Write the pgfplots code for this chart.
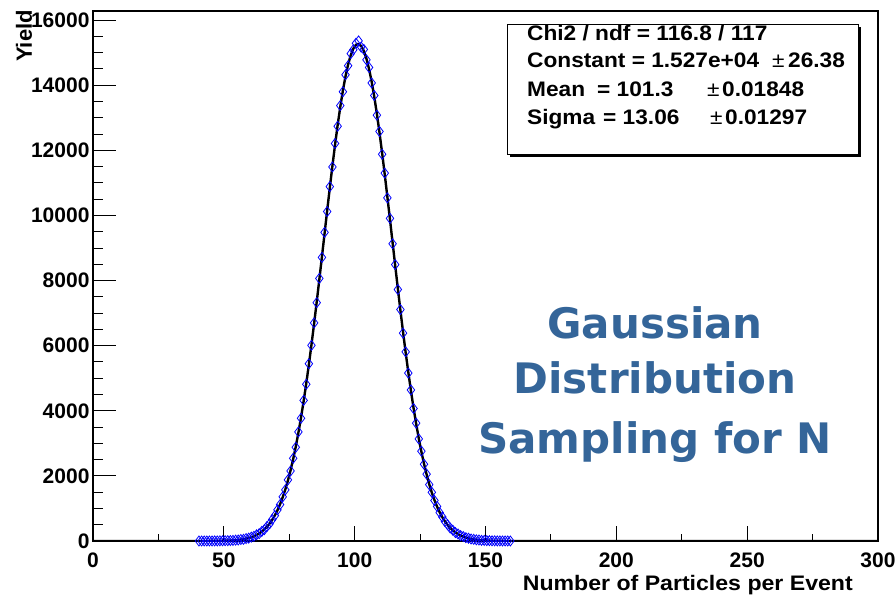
\documentclass[border=0pt]{standalone}
\usepackage{pgfplots}
\pgfplotsset{compat=1.18}
\usepackage{fontspec}
\setmainfont{Liberation Sans}
\newfontfamily\dejavu{DejaVu Sans}
\usepackage{graphicx}
\definecolor{titleblue}{RGB}{52,101,153}
\newcommand{\sx}[1]{\scalebox{1.08}[1]{#1}}
\newcommand{\statf}{\fontsize{21}{21}\selectfont\bfseries}

\pgfplotstableread{
x y
40.5 0
41.5 0
42.5 1
43.5 0
44.5 2
45.5 1
46.5 3
47.5 2
48.5 5
49.5 6
50.5 9
51.5 10
52.5 15
53.5 18
54.5 27
55.5 31
56.5 45
57.5 52
58.5 74
59.5 88
60.5 120
61.5 143
62.5 190
63.5 226
64.5 295
65.5 350
66.5 446
67.5 528
68.5 660
69.5 779
70.5 958
71.5 1118
72.5 1356
73.5 1570
74.5 1878
75.5 2152
76.5 2540
77.5 2880
78.5 3350
79.5 3770
80.5 4320
81.5 4815
82.5 5445
83.5 6010
84.5 6700
85.5 7320
86.5 8065
87.5 8710
88.5 9480
89.5 10120
90.5 10885
91.5 11490
92.5 12210
93.5 12740
94.5 13375
95.5 13800
96.5 14320
97.5 14600
98.5 14970
99.5 15090
100.5 15290
101.5 15360
102.5 15170
103.5 15100
104.5 14780
105.5 14545
106.5 14070
107.5 13685
108.5 13080
109.5 12580
110.5 11880
111.5 11300
112.5 10540
113.5 9910
114.5 9130
115.5 8490
116.5 7725
117.5 7110
118.5 6385
119.5 5810
120.5 5160
121.5 4640
122.5 4070
123.5 3620
124.5 3135
125.5 2760
126.5 2358
127.5 2055
128.5 1732
129.5 1495
130.5 1244
131.5 1062
132.5 872
133.5 738
134.5 597
135.5 500
136.5 398
137.5 333
138.5 259
139.5 216
140.5 165
141.5 137
142.5 102
143.5 85
144.5 62
145.5 52
146.5 36
147.5 30
148.5 20
149.5 18
150.5 12
151.5 10
152.5 6
153.5 5
154.5 3
155.5 3
156.5 1
157.5 2
158.5 1
159.5 0
}\histdata

\pgfplotstableread{
x y
0 0
30 0
40.5 0
45.5 2
50.5 8
53.5 19
55.5 33
57.5 55
59.5 91
60.5 116
61.5 147
62.5 185
63.5 232
64.5 288
65.5 357
66.5 439
67.5 536
68.5 652
69.5 788
70.5 946
71.5 1131
72.5 1343
73.5 1585
74.5 1860
75.5 2170
76.5 2517
77.5 2902
78.5 3327
79.5 3792
80.5 4296
81.5 4839
82.5 5419
83.5 6033
84.5 6676
85.5 7346
86.5 8036
87.5 8738
88.5 9447
89.5 10154
90.5 10849
91.5 11523
92.5 12169
93.5 12776
94.5 13334
95.5 13836
96.5 14273
97.5 14637
98.5 14923
99.5 15126
100.5 15241
101.3 15270
102.5 15206
103.5 15055
104.5 14818
105.5 14500
106.5 14106
107.5 13643
108.5 13117
109.5 12538
110.5 11914
111.5 11256
112.5 10571
113.5 9871
114.5 9163
115.5 8455
116.5 7757
117.5 7075
118.5 6415
119.5 5783
120.5 5182
121.5 4617
122.5 4089
123.5 3601
124.5 3152
125.5 2743
126.5 2373
127.5 2041
128.5 1745
129.5 1484
130.5 1254
131.5 1054
132.5 880
133.5 731
134.5 603
135.5 495
136.5 404
137.5 328
138.5 264
139.5 212
140.5 169
141.5 134
142.5 105
143.5 83
144.5 64
145.5 50
146.5 38
147.5 29
148.5 22
149.5 17
150.5 13
152.5 7
154.5 4
157.5 1
160.5 0
170 0
300 0
}\fitdata

\begin{document}
\begin{tikzpicture}[x=1pt,y=1pt]
\begin{axis}[
  at={(0,0)}, anchor=south west,
  scale only axis, width=785pt, height=530pt,
  xmin=0, xmax=300, ymin=0, ymax=16280,
  xtick={0,50,...,300}, minor xtick={25,75,...,275},
  ytick={0,2000,...,16000}, minor ytick={500,1000,...,16000},
  tick pos=left, tick align=inside,
  xtick style={/pgfplots/major tick length=15pt,/pgfplots/minor tick length=7.5pt, black, line width=1pt},
  ytick style={/pgfplots/major tick length=23pt,/pgfplots/minor tick length=10pt, black, line width=1pt},
  axis line style={line width=1.2pt},
  /pgf/number format/assume math mode=true,
  /pgf/number format/1000 sep={},
  scaled y ticks=false,
  tick label style={font=\fontsize{21}{21}\selectfont\bfseries},
  xticklabel style={yshift=-8pt},
]
\addplot[only marks, mark=diamond, mark size=5pt, color=blue, mark options={line width=0.8pt}] table[x=x,y=y] {\histdata};
\addplot[black, line width=2.4pt, line join=round] table[x=x,y=y] {\fitdata};
\end{axis}

% axis titles
\node[rotate=90, anchor=base east, inner sep=0pt] at (-61,531) {\fontsize{22}{22}\selectfont\bfseries Yield};
\node[anchor=base east, inner sep=0pt] at (760,-49) {\scalebox{1.1}[1]{\fontsize{21}{21}\selectfont\bfseries Number of Particles per Event}};

% stats box
\fill[black] (417,384) rectangle (768,514);
\draw[fill=white, line width=0.8pt] (414,387) rectangle (765,517);
\node[anchor=base west, inner sep=0pt] at (434,500) {\sx{\statf Chi2 / ndf = 116.8 / 117}};
\node[anchor=base west, inner sep=0pt] at (434,473) {\sx{\statf Constant = 1.527e+04}};
\node[anchor=base west, inner sep=0pt] at (679,473) {\sx{\fontsize{21}{21}\selectfont ±}};
\node[anchor=base west, inner sep=0pt] at (695,473) {\sx{\statf 26.38}};
\node[anchor=base west, inner sep=0pt] at (434,444) {\sx{\statf Mean}};
\node[anchor=base west, inner sep=0pt] at (504,444) {\sx{\statf = 101.3}};
\node[anchor=base west, inner sep=0pt] at (614,444) {\sx{\fontsize{21}{21}\selectfont ±}};
\node[anchor=base west, inner sep=0pt] at (629,444) {\sx{\statf 0.01848}};
\node[anchor=base west, inner sep=0pt] at (434,416) {\sx{\statf Sigma}};
\node[anchor=base west, inner sep=0pt] at (510,416) {\sx{\statf = 13.06}};
\node[anchor=base west, inner sep=0pt] at (617,416) {\sx{\fontsize{21}{21}\selectfont ±}};
\node[anchor=base west, inner sep=0pt] at (632,416) {\sx{\statf 0.01297}};

% big annotation
\node[anchor=base, inner sep=0pt, text=titleblue] at (562,203) {\dejavu\bfseries\fontsize{42}{42}\selectfont Gaussian};
\node[anchor=base, inner sep=0pt, text=titleblue] at (562,148) {\dejavu\bfseries\fontsize{42}{42}\selectfont Distribution};
\node[anchor=base, inner sep=0pt, text=titleblue] at (562,88) {\dejavu\bfseries\fontsize{42}{42}\selectfont Sampling for N};

\pgfresetboundingbox
\path[use as bounding box] (-93,-57) rectangle (802,541);
\end{tikzpicture}
\end{document}
